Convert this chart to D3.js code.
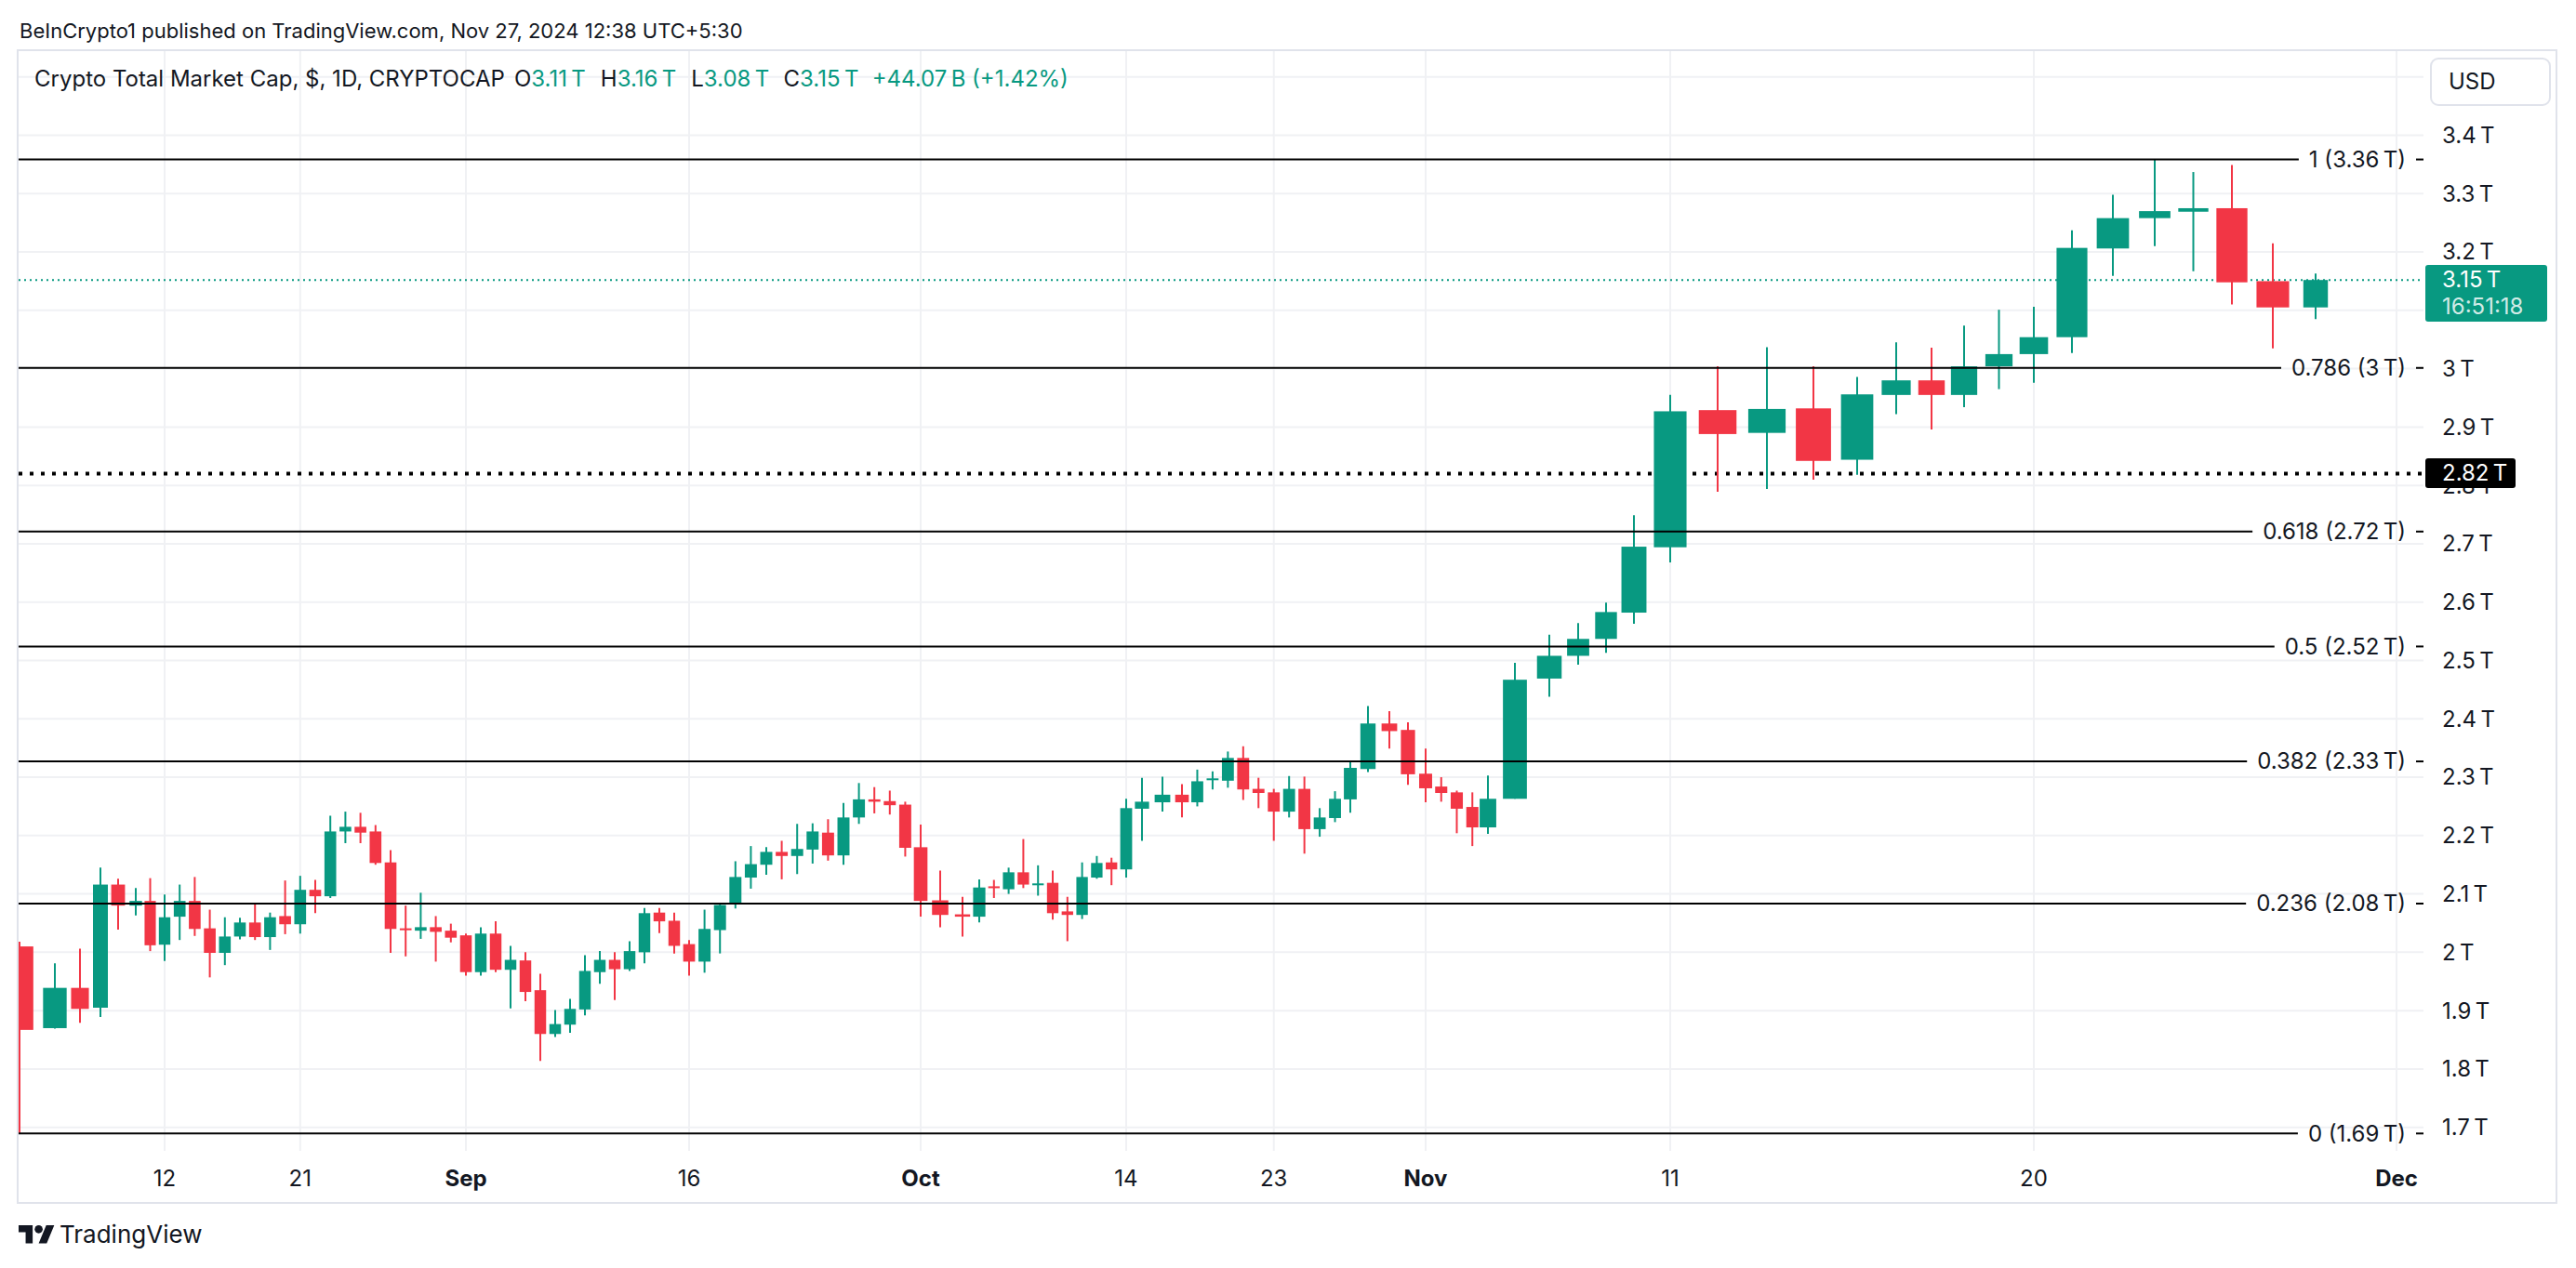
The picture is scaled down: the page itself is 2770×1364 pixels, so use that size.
<!DOCTYPE html>
<html><head><meta charset="utf-8">
<script src="https://cdn.jsdelivr.net/npm/d3@7"></script>
<style>html,body{margin:0;padding:0;background:#fff;}svg{display:block}</style>
</head><body>
<script>
// ---------------- DATA ----------------
const dates = [
"2024-08-05","2024-08-06","2024-08-07","2024-08-08","2024-08-09","2024-08-10","2024-08-11","2024-08-12","2024-08-13","2024-08-14",
"2024-08-15","2024-08-16","2024-08-17","2024-08-18","2024-08-19","2024-08-20","2024-08-21","2024-08-22","2024-08-23","2024-08-24",
"2024-08-25","2024-08-26","2024-08-27","2024-08-28","2024-08-29","2024-08-30","2024-08-31","2024-09-01","2024-09-02","2024-09-03",
"2024-09-04","2024-09-05","2024-09-06","2024-09-07","2024-09-08","2024-09-09","2024-09-10","2024-09-11","2024-09-12","2024-09-13",
"2024-09-14","2024-09-15","2024-09-16","2024-09-17","2024-09-18","2024-09-19","2024-09-20","2024-09-21","2024-09-22","2024-09-23",
"2024-09-24","2024-09-25","2024-09-26","2024-09-27","2024-09-28","2024-09-29","2024-09-30","2024-10-01","2024-10-02","2024-10-03",
"2024-10-04","2024-10-05","2024-10-06","2024-10-07","2024-10-08","2024-10-09","2024-10-10","2024-10-11","2024-10-12","2024-10-13",
"2024-10-14","2024-10-15","2024-10-16","2024-10-17","2024-10-18","2024-10-19","2024-10-20","2024-10-21","2024-10-22","2024-10-23",
"2024-10-24","2024-10-25","2024-10-26","2024-10-27","2024-10-28","2024-10-29","2024-10-30","2024-10-31","2024-11-01","2024-11-02",
"2024-11-03","2024-11-04","2024-11-05","2024-11-06","2024-11-07","2024-11-08","2024-11-09","2024-11-10","2024-11-11","2024-11-12",
"2024-11-13","2024-11-14","2024-11-15","2024-11-16","2024-11-17","2024-11-18","2024-11-19","2024-11-20","2024-11-21","2024-11-22",
"2024-11-23","2024-11-24","2024-11-25","2024-11-26","2024-11-27"];
const opens = [
2.010,1.870,1.939,1.905,2.116,2.080,2.088,2.013,2.061,2.088,
2.041,1.999,2.027,2.051,2.026,2.062,2.048,2.107,2.096,2.207,
2.215,2.207,2.154,2.041,2.037,2.043,2.037,2.029,1.966,2.032,
1.970,1.986,1.935,1.860,1.876,1.902,1.966,1.987,1.971,2.000,
2.068,2.054,2.014,1.984,2.038,2.082,2.128,2.150,2.172,2.165,
2.176,2.205,2.166,2.231,2.262,2.259,2.253,2.180,2.089,2.065,
2.061,2.113,2.108,2.137,2.115,2.119,2.070,2.064,2.128,2.154,
2.142,2.246,2.257,2.270,2.257,2.295,2.294,2.333,2.280,2.274,
2.241,2.280,2.211,2.230,2.262,2.314,2.392,2.381,2.306,2.284,
2.274,2.249,2.214,2.263,2.469,2.508,2.537,2.582,2.694,2.929,
2.890,2.932,2.844,2.955,2.980,2.955,3.004,3.025,3.054,3.206,
3.258,3.269,3.275,3.150,3.105];
const highs = [
2.018,1.981,2.006,2.145,2.126,2.110,2.127,2.099,2.116,2.129,
2.073,2.060,2.059,2.084,2.068,2.123,2.131,2.124,2.234,2.241,
2.239,2.218,2.175,2.080,2.102,2.062,2.049,2.032,2.043,2.053,
2.011,2.000,1.963,1.901,1.920,1.995,2.002,2.000,2.019,2.076,
2.076,2.068,2.021,2.073,2.083,2.156,2.182,2.180,2.191,2.220,
2.221,2.228,2.256,2.290,2.283,2.277,2.258,2.219,2.140,2.095,
2.125,2.124,2.145,2.194,2.149,2.140,2.095,2.154,2.165,2.162,
2.263,2.299,2.301,2.288,2.313,2.310,2.344,2.353,2.299,2.280,
2.302,2.301,2.247,2.276,2.328,2.422,2.413,2.394,2.349,2.300,
2.277,2.274,2.303,2.496,2.544,2.564,2.599,2.749,2.955,3.004,
3.037,3.004,2.986,3.045,3.036,3.074,3.101,3.106,3.237,3.298,
3.359,3.337,3.349,3.215,3.163];
const lows = [
1.690,1.869,1.879,1.889,2.039,2.063,2.002,1.985,2.021,2.028,
1.957,1.978,2.022,2.021,2.004,2.031,2.032,2.067,2.093,2.187,
2.187,2.150,1.999,1.993,2.023,1.984,2.017,1.960,1.960,1.966,
1.904,1.916,1.814,1.855,1.862,1.892,1.946,1.918,1.968,1.981,
2.033,1.998,1.960,1.965,1.998,2.075,2.109,2.133,2.125,2.134,
2.152,2.157,2.150,2.220,2.238,2.236,2.164,2.061,2.043,2.027,
2.051,2.093,2.100,2.110,2.097,2.056,2.019,2.057,2.126,2.115,
2.128,2.191,2.241,2.231,2.250,2.279,2.282,2.261,2.247,2.191,
2.231,2.169,2.198,2.223,2.239,2.309,2.349,2.287,2.257,2.258,
2.204,2.182,2.203,2.263,2.438,2.493,2.513,2.563,2.668,2.789,
2.794,2.810,2.818,2.922,2.896,2.934,2.965,2.976,3.027,3.159,
3.210,3.167,3.110,3.035,3.085];
const closes = [
1.867,1.939,1.903,2.116,2.080,2.088,2.012,2.060,2.088,2.040,
1.999,2.027,2.051,2.026,2.060,2.048,2.107,2.096,2.207,2.215,
2.205,2.153,2.040,2.038,2.043,2.035,2.025,1.966,2.032,1.970,
1.987,1.932,1.860,1.877,1.903,1.968,1.987,1.971,2.002,2.067,
2.053,2.011,1.984,2.040,2.081,2.129,2.151,2.172,2.165,2.177,
2.207,2.166,2.231,2.262,2.258,2.252,2.179,2.088,2.064,2.061,
2.111,2.110,2.137,2.116,2.118,2.067,2.064,2.129,2.153,2.142,
2.247,2.258,2.270,2.257,2.293,2.298,2.333,2.279,2.273,2.241,
2.280,2.211,2.231,2.263,2.316,2.392,2.379,2.305,2.281,2.273,
2.246,2.214,2.263,2.467,2.508,2.537,2.583,2.695,2.927,2.888,
2.931,2.842,2.956,2.980,2.955,3.004,3.025,3.054,3.207,3.258,
3.270,3.275,3.148,3.105,3.152];

const yGridValues  = [1.7,1.8,1.9,2.0,2.1,2.2,2.3,2.4,2.5,2.6,2.7,2.8,2.9,3.0,3.1,3.2,3.3,3.4,3.5];
const yLabelValues = [1.7,1.8,1.9,2.0,2.1,2.2,2.3,2.4,2.5,2.6,2.7,2.8,2.9,3.0,3.2,3.3,3.4];
const xTickDates  = ["2024-08-12","2024-08-21","2024-09-01","2024-09-16","2024-10-01","2024-10-14","2024-10-23","2024-11-01","2024-11-11","2024-11-20","2024-12-01"];
const xTickLabels = ["12","21","Sep","16","Oct","14","23","Nov","11","20","Dec"];
const xTickBold   = [false,false,true,false,true,false,false,true,false,false,true];

const fibLevels = [0, 0.236, 0.382, 0.5, 0.618, 0.786, 1];
const fibLow = 1.6895, fibHigh = 3.3585;
const markedPrice = 2.82;
const headerText = "BeInCrypto1 published on TradingView.com, Nov 27, 2024 12:38 UTC+5:30";
const symbolText = "Crypto Total Market Cap, $, 1D, CRYPTOCAP";
const ohlcLetters = ["O","H","L","C"];
const ohlcValues  = ["3.11","3.16","3.08","3.15"];
const changeText  = "+44.07\u202FB (+1.42%)";
const countdownText = "16:51:18";

// ---------------- LAYOUT ----------------
const W = 2770, H = 1364;
const plot = {left: 20, right: 2606, top: 55, bottom: 1238};
const UP = "#089981", DOWN = "#F23645", TXT = "#131722", GRID = "#f0f1f4";
const FONT = "Inter, 'Noto Sans', sans-serif";

const parse = d3.utcParse("%Y-%m-%d");
const data = dates.map((d,i)=>({date: parse(d), o: opens[i], h: highs[i], l: lows[i], c: closes[i]}));

// the published picture has an uneven horizontal time axis; map it piecewise
const xAnchorDates = ["2024-08-05","2024-08-06","2024-08-07","2024-08-08","2024-08-10","2024-08-12","2024-09-01","2024-09-16",
 "2024-10-01","2024-10-02","2024-10-03","2024-10-04","2024-10-14","2024-10-15","2024-10-16","2024-10-17","2024-10-28","2024-10-29",
 "2024-10-30","2024-10-31","2024-11-01","2024-11-05","2024-11-06","2024-11-07","2024-11-08","2024-11-10","2024-11-11","2024-11-12",
 "2024-11-13","2024-11-14","2024-11-15","2024-11-16","2024-11-17","2024-11-18","2024-11-20","2024-11-21","2024-11-22","2024-11-23",
 "2024-11-25","2024-11-26","2024-11-27","2024-12-01"].map(parse);
const xAnchorPx = [21,59,86,108,146,177,501,741,990,1011,1035,1053,1211,1228,1250,1271,1452,1471,1494,1514,1533,1600,1629,1666,
 1697,1757,1796,1847,1900,1950,1997,2039,2077,2112,2187,2228,2272,2317,2400,2444,2490,2577];
const x = d3.scaleUtc().domain(xAnchorDates).range(xAnchorPx);
const y = d3.scaleLinear().domain([1.7, 3.4]).range([1212.7, 145.5]);
const DAY = 864e5;
const step = d => (x(new Date(+d + DAY)) - x(new Date(+d - DAY))) / 2;

const svg = d3.select("body").append("svg").attr("width", W).attr("height", H)
  .style("font-family", FONT);
svg.append("rect").attr("width", W).attr("height", H).attr("fill", "#fff");

svg.append("defs").append("clipPath").attr("id","plotclip").append("rect")
  .attr("x", plot.left).attr("y", plot.top).attr("width", plot.right-plot.left).attr("height", plot.bottom-plot.top);

// header
svg.append("text").attr("x", 21).attr("y", 33).attr("dy","0.35em")
  .attr("font-size", 22).attr("fill", TXT).text(headerText);

// frame
svg.append("rect").attr("x", 19).attr("y", 54).attr("width", 2730).attr("height", 1240)
  .attr("fill","none").attr("stroke","#e0e3eb").attr("stroke-width",2);

const gPlot = svg.append("g").attr("clip-path","url(#plotclip)");

// grid
gPlot.selectAll("line.hg").data(yGridValues).join("line").attr("class","hg")
  .attr("x1", plot.left).attr("x2", plot.right).attr("y1", d=>y(d)).attr("y2", d=>y(d))
  .attr("stroke", GRID).attr("stroke-width", 2);
gPlot.selectAll("line.vg").data(xTickDates.map(parse)).join("line").attr("class","vg")
  .attr("x1", d=>x(d)).attr("x2", d=>x(d)).attr("y1", plot.top).attr("y2", plot.bottom)
  .attr("stroke", GRID).attr("stroke-width", 2);

// last price dotted line
const last = data[data.length-1];
gPlot.append("line").attr("x1", plot.left).attr("x2", plot.right).attr("y1", y(last.c)).attr("y2", y(last.c))
  .attr("stroke", UP).attr("stroke-width", 2).attr("stroke-dasharray","2 4");
// marked horizontal level
gPlot.append("line").attr("x1", plot.left).attr("x2", plot.right).attr("y1", y(markedPrice)).attr("y2", y(markedPrice))
  .attr("stroke", "#000").attr("stroke-width", 4).attr("stroke-dasharray","4 8");

// candles
const gC = gPlot.append("g");
gC.selectAll("line.wick").data(data).join("line").attr("class","wick")
  .attr("x1", d=>x(d.date)).attr("x2", d=>x(d.date)).attr("y1", d=>y(d.h)).attr("y2", d=>y(d.l))
  .attr("stroke", d=> d.c>=d.o?UP:DOWN).attr("stroke-width", 2);
gC.selectAll("rect.body").data(data).join("rect").attr("class","body")
  .attr("x", d=> x(d.date) - step(d.date)*0.39)
  .attr("width", d=> step(d.date)*0.78)
  .attr("y", d=> y(Math.max(d.o,d.c)))
  .attr("height", d=> Math.max(2, Math.abs(y(d.o)-y(d.c))))
  .attr("fill", d=> d.c>=d.o?UP:DOWN);

// fib retracement
const fmtVal = d3.format(".3~r");
const fibs = fibLevels.map(l=>({level:l, value: fibLow + (fibHigh-fibLow)*l}));
const labelRight = 2587, gap = 11;
const gF = svg.append("g");
fibs.forEach(f=>{
  const yy = y(f.value);
  const t = gF.append("text").attr("x", labelRight).attr("y", yy).attr("dy","0.35em")
    .attr("text-anchor","end").attr("font-size", 24).attr("fill", TXT)
    .text(`${f.level} (${fmtVal(f.value)}\u202FT)`);
  const wTxt = t.node().getComputedTextLength();
  gF.append("line").attr("x1", plot.left).attr("x2", labelRight - wTxt - gap).attr("y1", yy).attr("y2", yy)
    .attr("stroke","#000").attr("stroke-width",2);
  gF.append("line").attr("x1", labelRight + gap).attr("x2", plot.right).attr("y1", yy).attr("y2", yy)
    .attr("stroke","#000").attr("stroke-width",2);
});

// price axis labels
const fmtTick = v => (Math.round(v*10)/10).toString();
svg.selectAll("text.yt").data(yLabelValues).join("text").attr("class","yt")
  .attr("x", 2626).attr("y", d=>y(d)).attr("dy","0.35em").attr("font-size", 24).attr("fill", TXT)
  .text(d=> fmtTick(d) + "\u202FT");

// USD box
svg.append("rect").attr("x", 2614).attr("y", 63).attr("width", 128).attr("height", 50).attr("rx", 8)
  .attr("fill","#fff").attr("stroke","#e0e3eb").attr("stroke-width",2);
svg.append("text").attr("x", 2633).attr("y", 88).attr("dy","0.35em").attr("font-size", 24).attr("fill", TXT).text("USD");

// last price label
svg.append("rect").attr("x", 2608).attr("y", 285).attr("width", 131).attr("height", 61).attr("rx", 3).attr("fill", UP);
svg.append("text").attr("x", 2626).attr("y", 301).attr("dy","0.35em").attr("font-size", 24).attr("fill","#fff")
  .text(fmtVal(last.c).slice(0,4) + "\u202FT");
svg.append("text").attr("x", 2626).attr("y", 330).attr("dy","0.35em").attr("font-size", 24).attr("fill","#fff")
  .attr("fill-opacity",0.82).text(countdownText);

// marked price label (covers the lower grid label partly, as in the original)
svg.append("rect").attr("x", 2608).attr("y", 493).attr("width", 97).attr("height", 32).attr("rx", 3).attr("fill", "#000");
svg.append("text").attr("x", 2626).attr("y", 509).attr("dy","0.35em").attr("font-size", 24).attr("fill","#fff")
  .text(markedPrice + "\u202FT");

// time axis labels
svg.selectAll("text.xt").data(xTickDates).join("text").attr("class","xt")
  .attr("x", d=>x(parse(d))).attr("y", 1267.5).attr("dy","0.35em").attr("text-anchor","middle")
  .attr("font-size", 24).attr("fill", TXT).attr("font-weight", (d,i)=> xTickBold[i]?700:400)
  .text((d,i)=>xTickLabels[i]);

// legend
const lg = svg.append("text").attr("x", 37).attr("y", 85).attr("dy","0.35em").attr("font-size", 24).attr("fill", TXT);
lg.append("tspan").text(symbolText);
ohlcLetters.forEach((L,i)=>{
  lg.append("tspan").attr("dx", i===0?10:16).attr("fill", TXT).text(L);
  lg.append("tspan").attr("dx", 0).attr("fill", UP).text(ohlcValues[i] + "\u202FT");
});
lg.append("tspan").attr("dx", 16).attr("fill", UP).text(changeText);

// TradingView logo
const logo = svg.append("g").attr("transform","translate(20,1318) scale(1.08)");
logo.append("path").attr("d","M14 22H7V11H0V4h14v18zM28 22h-8l7.5-18h8L28 22z").attr("transform","translate(0,-4)").attr("fill", TXT);
logo.append("circle").attr("cx",20).attr("cy",4).attr("r",4).attr("fill", TXT);
svg.append("text").attr("x", 64).attr("y", 1328).attr("dy","0.35em").attr("font-size", 26).attr("fill", TXT).text("TradingView");
</script>
</body></html>
